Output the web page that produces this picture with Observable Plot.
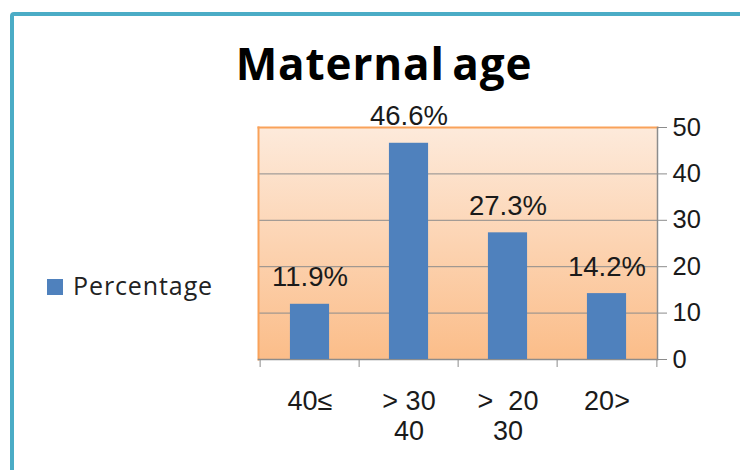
<!DOCTYPE html>
<html>
<head>
<meta charset="utf-8">
<script src="https://cdn.jsdelivr.net/npm/d3@7"></script>
<script src="https://cdn.jsdelivr.net/npm/@observablehq/plot@0.6"></script>
<style>
  html, body { margin: 0; padding: 0; width: 740px; height: 470px; overflow: hidden; background: #fff; }
  #frame { position: absolute; left: 10px; top: 12px; width: 820px; height: 620px; border: 4px solid #4bacc6; border-radius: 4px; box-sizing: border-box; }
  #title { position: absolute; left: 0; width: 768px; top: 42px; text-align: center; font-family: "Open Sans", sans-serif; font-weight: 700; font-size: 44px; line-height: 43px; letter-spacing: 0.9px; word-spacing: -5px; color: #000; white-space: nowrap; }
  #legend { position: absolute; left: 47px; top: 273px; font-family: "Open Sans", sans-serif; font-size: 25px; line-height: 25px; letter-spacing: 0.9px; color: #222; white-space: nowrap; }
  #legend .swatch { position: absolute; left: 0; top: 6px; width: 16px; height: 16px; background: #4f81bd; }
  #legend .text { position: absolute; left: 26px; top: 0; }
  #chart { position: absolute; left: 0; top: 0; }
</style>
</head>
<body>
<div id="frame"></div>
<div id="chart"></div>
<div id="title"></div>
<div id="legend"><div class="swatch"></div><div class="text"></div></div>
<script>
const titleText = "Maternal age";
const legendLabel = "Percentage";
const categories = ["40≤", "> 30\n40", ">\u00a0\u00a020\n30", "20>"];
const values = [11.9, 46.6, 27.3, 14.2];
const valueLabels = ["11.9%", "46.6%", "27.3%", "14.2%"];
const yTicks = [0, 10, 20, 30, 40, 50];

document.getElementById("title").textContent = titleText;
document.querySelector("#legend .text").textContent = legendLabel;

const data = categories.map((c, i) => ({cat: c, value: values[i], label: valueLabels[i]}));

const W = 740, H = 470, mL = 258, mR = 83, mT = 127, mB = 111;
const step = (W - mL - mR) / categories.length;
const barInset = step * 0.3;
const gray = "#8c8c8c";
const orange = "#f9a25a";

const chart = Plot.plot({
  width: W, height: H,
  marginLeft: mL, marginRight: mR, marginTop: mT, marginBottom: mB,
  style: {background: "transparent", fontFamily: "'Liberation Sans', Arial, sans-serif", fontSize: "26px", color: "#1a1a1a", overflow: "visible"},
  x: {domain: categories, padding: 0, label: null},
  y: {domain: [0, 50], label: null},
  marks: [
    Plot.frame({fill: "url(#plotBg)", stroke: null}),
    Plot.gridY(yTicks, {stroke: gray, strokeOpacity: 1}),
    Plot.frame({anchor: "top", stroke: orange, strokeWidth: 2}),
    Plot.frame({anchor: "left", stroke: orange, strokeWidth: 2}),
    Plot.frame({anchor: "bottom", stroke: gray, strokeWidth: 1.5}),
    Plot.frame({anchor: "right", stroke: gray, strokeWidth: 1.5}),
    Plot.ruleX(categories, {x: d => d, dx: -step / 2, y1: 0, y2: 0, insetBottom: -8, stroke: gray}),
    Plot.ruleX([categories[categories.length - 1]], {x: d => d, dx: step / 2, y1: 0, y2: 0, insetBottom: -8, stroke: gray}),
    Plot.barY(data, {x: "cat", y: "value", fill: "#4f81bd", insetLeft: barInset, insetRight: barInset}),
    Plot.text(data, {x: "cat", y: "value", text: "label", lineAnchor: "bottom", dy: -18, fontSize: 27.5, fill: "#1a1a1a"}),
    Plot.axisY(yTicks, {anchor: "right", tickSize: 9, tickPadding: 6, stroke: gray, fill: "#1a1a1a", fontSize: 25.5, label: null}),
    Plot.axisX({tickSize: 0, tickPadding: 29, fontSize: 27, lineHeight: 1.12, fill: "#1a1a1a", label: null})
  ]
});

d3.select(chart).insert("defs", ":first-child").html(
  '<linearGradient id="plotBg" x1="0" y1="0" x2="0" y2="1">' +
  '<stop offset="0" stop-color="#fdeadb"/>' +
  '<stop offset="1" stop-color="#fbbd89"/>' +
  '</linearGradient>'
);
document.getElementById("chart").appendChild(chart);
</script>
</body>
</html>
